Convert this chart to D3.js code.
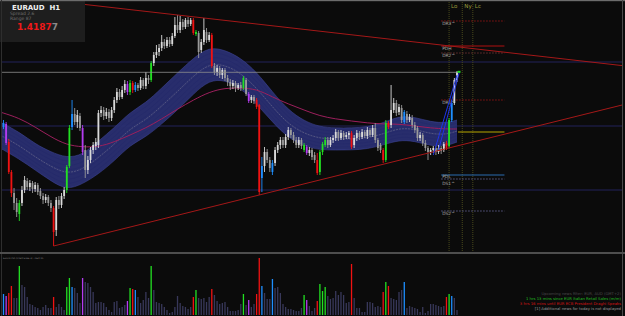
<!DOCTYPE html>
<html><head><meta charset="utf-8">
<script src="https://cdn.jsdelivr.net/npm/d3@7"></script>
<style>html,body{margin:0;padding:0;background:#0b0b0b;overflow:hidden}svg{display:block}</style>
</head><body><svg id="c" width="625" height="316"></svg>
<script>
// ---------------- DATA ----------------
const symbol = "EURAUD", timeframe = "H1", lastPrice = "1.41877", bid = 1.41877;
const P = a => a.map(v => +(1.4 + v / 10000).toFixed(4));
const open = P([133,136,118,88,67,57,46,57,70,79,73,77,71,75,69,64,60,63,57,52,30,60,55,64,70,94,133,146,138,144,132,110,90,100,110,114,115,147,150,144,148,142,150,160,168,163,170,176,168,177,170,175,172,180,174,182,180,197,205,208,212,218,214,220,216,224,235,230,238,233,240,236,240,226,227,210,218,228,220,225,194,188,192,185,190,182,178,174,177,172,175,172,180,166,160,163,160,155,82,94,108,100,88,97,110,115,120,115,123,130,125,120,115,120,110,113,107,110,105,100,88,108,115,120,115,120,122,128,122,127,123,125,127,115,122,127,123,128,124,130,125,132,120,115,110,100,137,135,150,157,148,152,138,146,140,142,135,132,122,125,117,112,108,110,112,108,112,110,117,114,140,157,180]);
const high = P([140,138,121,90,72,62,60,74,84,82,80,79,78,77,72,67,66,65,60,54,63,64,67,73,95,135,160,152,150,147,135,115,104,113,118,122,150,154,153,152,151,153,163,172,171,174,180,179,180,179,178,177,183,182,188,185,199,208,215,216,225,221,223,223,227,243,245,244,241,242,243,242,242,230,229,221,242,232,228,227,197,195,194,192,192,185,181,180,179,177,178,184,182,168,165,165,162,156,103,113,111,103,100,113,118,123,123,126,133,132,128,123,123,122,117,115,113,112,108,107,110,118,123,123,123,125,131,130,130,129,128,129,129,125,130,129,131,130,133,132,135,137,122,117,112,140,139,175,162,160,156,155,150,149,146,145,138,134,128,127,120,114,112,114,114,115,114,118,119,142,160,182,189]);
const low = P([131,115,86,63,50,43,39,54,67,70,69,67,68,65,61,56,57,54,48,14,24,51,52,61,67,92,130,135,132,129,105,82,86,97,106,110,112,143,140,141,138,139,147,157,160,161,167,165,165,167,168,169,170,171,171,176,178,194,202,204,209,211,212,213,214,222,227,227,230,231,233,234,225,224,202,207,215,217,218,192,185,184,182,181,179,174,170,171,168,170,169,170,164,157,157,156,151,65,68,88,97,88,85,94,107,111,112,112,120,122,117,112,112,111,108,105,104,100,97,85,85,105,113,112,113,117,119,119,120,120,121,121,111,112,119,120,121,122,121,123,123,117,109,107,97,98,131,132,147,144,145,137,136,137,138,132,127,119,119,114,109,100,105,107,105,106,106,108,110,112,138,155,178]);
const close = P([137,117,88,67,57,48,57,70,80,73,77,71,75,68,64,60,63,57,52,28,60,55,64,70,93,132,146,138,145,132,108,90,100,110,115,118,147,150,144,148,142,150,160,168,163,170,176,168,177,170,175,172,180,174,182,180,197,205,208,212,218,214,220,216,224,235,230,238,233,240,236,240,227,228,208,218,230,220,225,194,188,192,185,190,182,178,174,177,172,175,172,182,166,159,163,159,153,68,94,108,100,92,97,110,115,120,115,123,130,125,120,115,120,114,115,107,110,103,100,87,108,116,120,115,120,122,128,122,127,123,125,127,113,122,127,123,128,124,130,125,132,120,112,110,100,137,133,150,157,147,153,140,148,140,143,135,130,122,125,117,112,108,110,112,108,112,109,116,112,140,157,180,188]);
const volume = [840,760,880,1160,680,680,1960,1200,1120,720,440,400,320,280,200,320,400,280,280,720,320,440,320,200,1120,1480,1120,1080,880,480,1480,1320,1280,1120,920,480,520,520,480,320,200,120,520,560,280,320,400,560,1080,1040,1000,720,480,600,920,680,1960,1000,520,480,440,320,200,80,120,320,760,480,360,320,240,320,720,1000,680,640,680,520,720,1040,800,560,440,480,520,320,160,160,160,200,440,840,400,600,320,440,840,2280,1160,880,640,640,1440,1080,1120,880,440,320,240,240,200,160,160,280,800,600,360,160,280,560,1240,960,1120,760,640,680,960,800,920,800,480,520,2040,680,280,280,120,120,520,520,480,320,360,320,920,1320,1160,680,640,600,920,1000,1320,280,360,320,280,240,120,320,80,160,440,440,400,360,320,360,720,840,760,680,200];
// PVSRA classes (candle indices)
const climaxBull = [6,24,25,48,56,73,91,114,120,121,122,145,169];
const climaxBear = [2,3,19,49,72,79,96,97,119,132,144,146,168];
const risingBull = [0,26,50,98,102,152,170];
const risingBear = [1,30,47,93,115];
// Dragon band (EMA high / low) and EMA 89, sampled at ribbonIdx
const ribbonIdx = [0,6,12,18,24,30,36,42,48,54,60,66,72,78,84,90,96,102,108,114,120,126,132,138,144,150,156,162,168,172];
const ribbonUpper = P([138,128,116,108,102,105,119,132,148,157,172,187,202,213,210,202,188,168,150,139,133,132,132,133,137,144,143,138,137,140]);
const ribbonLower = P([112,101,90,79,70,76,86,99,115,123,136,150,166,180,180,172,156,138,122,114,110,110,110,111,115,120,119,114,114,118]);
const ema89 = P([148,142,133,123,115,113,113,118,125,132,141,151,160,168,172,172,171,163,156,150,144,141,139,137,136,136,134,132,131,131]);
// full-width pivot lines
const gridPrices = [1.4198, 1.4134, 1.4070];
// daily levels
const levelNames = ["DR3^","PDH","DR2^","DR1^","","PDL","DS1^","DS2^"];
const levelPrices = [1.4239, 1.4214, 1.4207, 1.4160, 1.4128, 1.4085, 1.4081, 1.4049];
const levelKinds = ["dotR","solidR","dotG","dotR","yellow","blue","dotB","dotB"];
// sessions
const sessionNames = ["Lo","Ny","Lc"];
const sessionIdx = [169, 174, 178];
// trend lines [idx, price]
const trendLower = [[19, 1.4014], [97, 1.4065]];
const trendUpper = [[66, 1.4245], [76, 1.4242]];
const blueLines = [[[163, 1.4105], [172, 1.4185]], [[165, 1.4110], [173, 1.4189]]];
const newsLines = ["Upcoming news filter: EUR, AUD (GMT+2)",
  "1 hrs 13 mins since EUR Italian Retail Sales (m/m)",
  "3 hrs 16 mins until EUR ECB President Draghi Speaks",
  "[1] Additional news for today is not displayed"];

// ---------------- DRAW ----------------
const W = 625, H = 316, N = close.length;
const svg = d3.select("#c");
const x = d3.scaleLinear().domain([0, N - 1]).range([3.5, 457]);
const y = d3.scaleLinear().domain([1.4260, 1.4010]).range([0, 250]);
const vy = d3.scaleLinear().domain([0, 2280]).range([315, 258]);
const F = "DejaVu Sans, Arial, sans-serif";

svg.append("rect").attr("width", W).attr("height", H).attr("fill", "#0b0b0b");
const defs = svg.append("defs");
defs.append("clipPath").attr("id", "mc").append("rect").attr("x", 2).attr("y", 1).attr("width", 620).attr("height", 250);
const main = svg.append("g").attr("clip-path", "url(#mc)");

// pivot grid lines
main.selectAll(".gl").data(gridPrices).join("line")
  .attr("x1", 0).attr("x2", 622).attr("y1", d => y(d)).attr("y2", d => y(d))
  .attr("stroke", "#23235a").attr("stroke-width", 1);

// session verticals
main.selectAll(".sv").data(sessionIdx).join("line")
  .attr("x1", d => x(d)).attr("x2", d => x(d)).attr("y1", 0).attr("y2", 251)
  .attr("stroke", "#4a4a1c").attr("stroke-width", 1).attr("stroke-dasharray", "1,1");

// ribbon
const rib = ribbonIdx.map((d, k) => ({i: d, u: ribbonUpper[k], l: ribbonLower[k], e: ema89[k]}));
const xr = d => d.i === 0 ? 0 : x(d.i);
main.append("path").datum(rib)
  .attr("d", d3.area().x(xr).y0(d => y(d.u)).y1(d => y(d.l)).curve(d3.curveBasis))
  .attr("fill", "#2a2f72").attr("opacity", 0.95);
[0, 0.14, 0.28, 0.42, 0.58, 0.72, 0.86, 1].forEach(f => {
  main.append("path").datum(rib)
    .attr("d", d3.line().x(xr).y(d => y(d.u + (d.l - d.u) * f)).curve(d3.curveBasis))
    .attr("fill", "none").attr("stroke", f === 0 || f === 1 ? "#3c4394" : "#23286a").attr("stroke-width", 0.6);
});
main.append("path").datum(rib)
  .attr("d", d3.line().x(xr).y(d => y((d.u + d.l) / 2)).curve(d3.curveBasis))
  .attr("fill", "none").attr("stroke", "#6e6e8e").attr("stroke-width", 0.6).attr("stroke-dasharray", "2,1");
main.append("path").datum(rib)
  .attr("d", d3.line().x(xr).y(d => y(d.e)).curve(d3.curveBasis))
  .attr("fill", "none").attr("stroke", "#9c1f5c").attr("stroke-width", 1);

// levels
const lvlStart = x(166), lvlEnd = x(190);
const lvlStyle = {
  dotR: ["#8a1414", "1.5,1.5"], solidR: ["#b01010", null], dotG: ["#6a3030", "1.5,1.5"],
  yellow: ["#b8a800", null], blue: ["#2a6cb0", null], dotB: ["#5a5a86", "1.5,1.5"]
};
levelPrices.forEach((p, k) => {
  const s = lvlStyle[levelKinds[k]];
  const xs = levelKinds[k] === "yellow" ? x(172) + 1 : lvlStart;
  const ln = main.append("line").attr("x1", xs).attr("x2", lvlEnd).attr("y1", y(p)).attr("y2", y(p))
    .attr("stroke", s[0]).attr("stroke-width", 1);
  if (s[1]) ln.attr("stroke-dasharray", s[1]);
});

// candles
const cls = new Array(N).fill("n");
climaxBull.forEach(i => cls[i] = "G"); climaxBear.forEach(i => cls[i] = "R");
risingBull.forEach(i => cls[i] = "B"); risingBear.forEach(i => cls[i] = "M");
const colMap = {G: "#22e022", R: "#f01212", B: "#1e8fff", M: "#b43cf0"};
const ccol = i => cls[i] !== "n" ? colMap[cls[i]] : (close[i] >= open[i] ? "#dadada" : "#9a9a9a");
const idx = d3.range(N);
main.selectAll(".wk").data(idx).join("line")
  .attr("x1", i => x(i)).attr("x2", i => x(i)).attr("y1", i => y(high[i])).attr("y2", i => y(low[i]))
  .attr("stroke", ccol).attr("stroke-width", 0.9);
main.selectAll(".bd").data(idx).join("rect")
  .attr("x", i => x(i) - 0.9).attr("width", 1.8)
  .attr("y", i => Math.min(y(open[i]), y(close[i])))
  .attr("height", i => Math.max(0.9, Math.abs(y(open[i]) - y(close[i]))))
  .attr("fill", ccol);

// level labels
const lblDy = {PDL: 3.4, "DS1^": 5.6};
levelPrices.forEach((p, k) => {
  if (!levelNames[k]) return;
  main.append("text").attr("x", lvlStart + 1).attr("y", y(p) + (lblDy[levelNames[k]] || 4.4)).text(levelNames[k])
    .attr("font-family", F).attr("font-size", 4.4).attr("fill", "#a8a8a8");
});

// trend lines
const tl = (a, b, i0, i1) => {
  const s = (b[1] - a[1]) / (b[0] - a[0]);
  main.append("line").attr("x1", x(i0)).attr("y1", y(a[1] + s * (i0 - a[0])))
    .attr("x2", x(i1)).attr("y2", y(a[1] + s * (i1 - a[0])))
    .attr("stroke", "#a41818").attr("stroke-width", 1);
};
tl(trendLower[0], trendLower[1], trendLower[0][0], x.invert(W));
tl(trendUpper[0], trendUpper[1], x.invert(0), x.invert(W));
blueLines.forEach(([a, b]) => {
  main.append("line").attr("x1", x(a[0])).attr("y1", y(a[1])).attr("x2", x(b[0])).attr("y2", y(b[1]))
    .attr("stroke", "#1f34e6").attr("stroke-width", 1);
});

// bid line
main.append("line").attr("x1", 0).attr("x2", x(N - 1) + 1).attr("y1", y(bid)).attr("y2", y(bid))
  .attr("stroke", "#8e8e8e").attr("stroke-width", 0.8);
main.append("rect").attr("x", x(N - 1) + 0.5).attr("y", y(bid) - 1.5).attr("width", 3).attr("height", 2).attr("fill", "#20e020");

// session labels
sessionIdx.forEach((d, k) => {
  svg.append("text").attr("x", x(d) + 2).attr("y", 7.5).text(sessionNames[k])
    .attr("font-family", F).attr("font-size", 5.5).attr("fill", "#9a9a3a");
});

// info box
svg.append("rect").attr("x", 0).attr("y", 0).attr("width", 85).attr("height", 42).attr("fill", "#1e1e1e");
svg.append("text").attr("x", 12).attr("y", 9.5).text(symbol + "  " + timeframe)
  .attr("font-family", F).attr("font-size", 7).attr("font-weight", "bold").attr("fill", "#f0f0f0").attr("xml:space", "preserve");
["Spread 2.6", "Range 87"].forEach((t, k) => {
  svg.append("text").attr("x", 10).attr("y", 15 + k * 5).text(t)
    .attr("font-family", F).attr("font-size", 4.5).attr("fill", "#6e6e6e");
});
const pt = svg.append("text").attr("x", 17).attr("y", 29.5).attr("font-family", F)
  .attr("font-size", 9).attr("font-weight", "bold");
pt.append("tspan").text(lastPrice.slice(0, -1)).attr("fill", "#f01818");
pt.append("tspan").text(lastPrice.slice(-1)).attr("fill", "#8a8a8a");

// borders
svg.append("rect").attr("x", 0).attr("y", 0).attr("width", W).attr("height", 1.2).attr("fill", "#6c6c6c");
svg.append("line").attr("x1", 1.5).attr("x2", 1.5).attr("y1", 0).attr("y2", H).attr("stroke", "#2e2e2e");
svg.append("line").attr("x1", 622.5).attr("x2", 622.5).attr("y1", 0).attr("y2", H).attr("stroke", "#4a4a4a");
svg.append("rect").attr("x", 0).attr("y", 252).attr("width", W).attr("height", 2).attr("fill", "#4e4e4e");

// volume panel
const vcol = i => cls[i] !== "n" ? colMap[cls[i]] : "#38385a";
svg.selectAll(".vb").data(idx).join("rect")
  .attr("x", i => x(i) - 0.65).attr("width", 1.3)
  .attr("y", i => vy(volume[i])).attr("height", i => 315 - vy(volume[i]))
  .attr("fill", vcol);
svg.append("text").attr("x", 3).attr("y", 258.5).text("SonicR PVA (Chart Scale 3) \u00b7 Alert On")
  .attr("font-family", F).attr("font-size", 2.2).attr("fill", "#8a8a8a");
const newsCol = ["#4a4a4a", "#22c022", "#d81414", "#9a9a9a"];
newsLines.forEach((t, k) => {
  svg.append("text").attr("x", 621).attr("y", 295 + k * 5).text(t).attr("text-anchor", "end")
    .attr("font-family", F).attr("font-size", 3.8).attr("fill", newsCol[k]);
});
</script></body></html>
